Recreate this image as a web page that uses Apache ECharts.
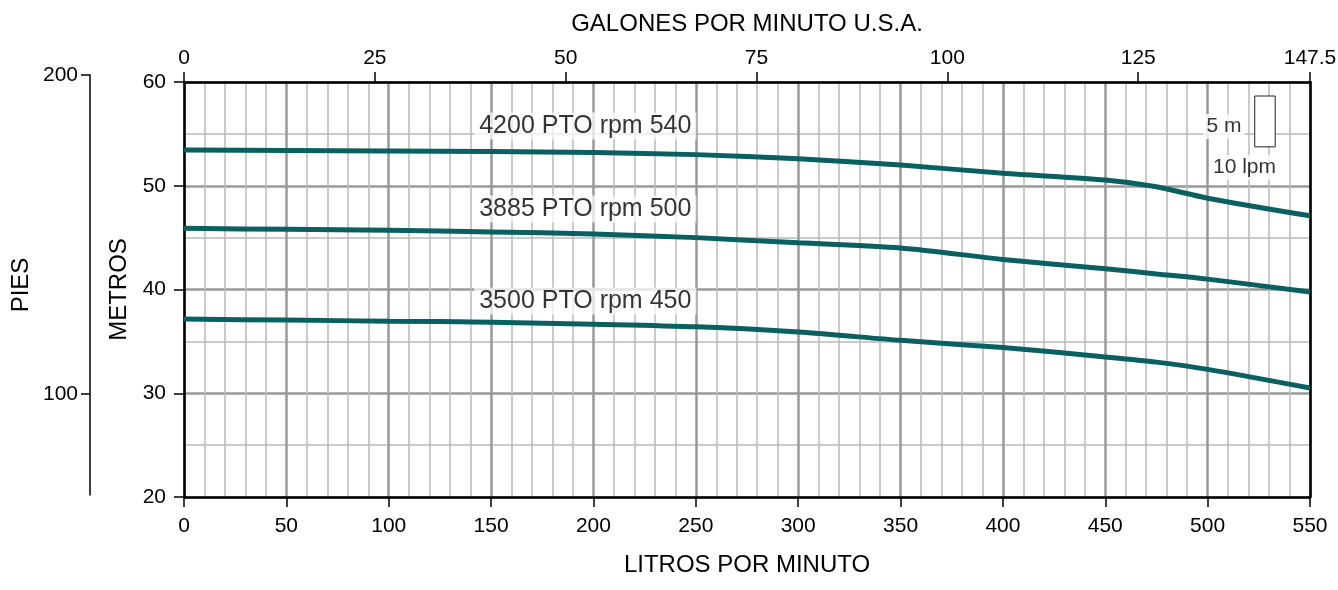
<!DOCTYPE html>
<html><head><meta charset="utf-8">
<script src="https://cdn.jsdelivr.net/npm/echarts@6/dist/echarts.min.js"></script>
<style>html,body{margin:0;padding:0;background:#fff}#c{width:1338px;height:590px}</style>
</head><body><div id="c"></div>
<script>
// Data
const lpm = [0, 50, 100, 150, 200, 250, 300, 350, 400, 450, 475, 500, 550];
const rpm540 = [53.45, 53.4, 53.35, 53.3, 53.2, 53.0, 52.6, 52.0, 51.2, 50.55, 49.9, 48.8, 47.1];
const rpm500 = [45.9, 45.8, 45.7, 45.55, 45.35, 45.0, 44.5, 44.0, 42.9, 42.0, 41.5, 41.0, 39.75];
const rpm450 = [37.15, 37.05, 36.95, 36.85, 36.65, 36.4, 35.9, 35.1, 34.4, 33.5, 33.0, 32.3, 30.5];
const curveNames = ['4200 PTO rpm 540', '3885 PTO rpm 500', '3500 PTO rpm 450'];
const curveLabelAt = [[196, 55.76], [196, 47.76], [196, 38.9]];
const galTicks = [0, 25, 50, 75, 100, 125, 147.5];
const piesTicks = [100, 200];
const scaleBox = [[523, 58.65], [533, 53.75]];
const scaleTexts = [['5 m', 508, 55.7], ['10 lpm', 518, 51.75]];

const FONT = 'Liberation Sans';
const lineColor = '#0a5f60';
const series = [rpm540, rpm500, rpm450].map((v, i) => ({
  type: 'line', name: curveNames[i], data: lpm.map((x, j) => [x, v[j]]),
  showSymbol: false, smooth: 0.3, lineStyle: { color: lineColor, width: 5 }, z: 5,
  xAxisIndex: 0, yAxisIndex: 0
}));
series.push({
  type: 'scatter', symbolSize: 0, z: 6,
  data: curveLabelAt.map((p, i) => ({ value: p, name: curveNames[i] })),
  label: { show: true, position: 'inside', formatter: p => p.name, color: '#000',
    fontFamily: FONT, fontSize: 25, backgroundColor: 'rgba(255,255,255,0.9)', padding: [1, 5] }
});
series.push({
  type: 'scatter', symbolSize: 0, z: 6,
  data: scaleTexts.map(t => ({ value: [t[1], t[2]], name: t[0] })),
  label: { show: true, position: 'inside', formatter: p => p.name, color: '#000',
    fontFamily: FONT, fontSize: 21, backgroundColor: '#fff', padding: [2, 3] },
  markArea: { silent: true, itemStyle: { color: '#fff', borderColor: '#222', borderWidth: 1 },
    data: [[{ coord: scaleBox[0] }, { coord: scaleBox[1] }]] }
});
series.push({ type: 'line', data: [], xAxisIndex: 2, yAxisIndex: 2 });

const tickLbl = { fontFamily: FONT, fontSize: 21, color: '#000' };
const chart = echarts.init(document.getElementById('c'), null, { renderer: 'canvas' });
chart.setOption({
  animation: false,
  textStyle: { fontFamily: FONT },
  grid: [
    { left: 184, right: 28, top: 82, bottom: 93, containLabel: false, outerBoundsMode: 'none' },
    { left: 90, width: 1, top: 75, bottom: 95, containLabel: false, outerBoundsMode: 'none' }
  ],
  xAxis: [
    { type: 'value', gridIndex: 0, position: 'bottom', min: 0, max: 550, interval: 50,
      name: 'LITROS POR MINUTO', nameLocation: 'middle', nameGap: 56,
      nameTextStyle: { fontFamily: FONT, fontSize: 24, color: '#000' },
      axisLine: { show: true, onZero: false, lineStyle: { color: '#000', width: 2.5 } },
      axisTick: { show: true, length: 10, inside: false, lineStyle: { color: '#000', width: 1.5 } },
      axisLabel: Object.assign({ margin: 19 }, tickLbl),
      splitLine: { show: true, lineStyle: { color: '#999', width: 2.5 } },
      minorTick: { show: false, splitNumber: 5 },
      minorSplitLine: { show: true, lineStyle: { color: '#bbb', width: 1.5 } } },
    { type: 'value', gridIndex: 0, position: 'top', min: 0, max: 147.5,
      name: 'GALONES POR MINUTO U.S.A.', nameLocation: 'middle', nameGap: 46,
      nameTextStyle: { fontFamily: FONT, fontSize: 24, color: '#000' },
      axisLine: { show: true, onZero: false, lineStyle: { color: '#000', width: 2.5 } },
      axisTick: { show: true, length: 10, customValues: galTicks, lineStyle: { color: '#000', width: 1.5 } },
      axisLabel: Object.assign({ margin: 13, customValues: galTicks, formatter: v => String(v) }, tickLbl),
      splitLine: { show: false } },
    { type: 'value', gridIndex: 1, show: false, min: 0, max: 1 }
  ],
  yAxis: [
    { type: 'value', gridIndex: 0, position: 'left', min: 20, max: 60, interval: 10,
      name: 'METROS', nameLocation: 'middle', nameGap: 41, nameRotate: 90,
      nameTextStyle: { fontFamily: FONT, fontSize: 24, color: '#000' },
      axisLine: { show: true, onZero: false, lineStyle: { color: '#000', width: 2.5 } },
      axisTick: { show: true, length: 10, lineStyle: { color: '#000', width: 1.5 } },
      axisLabel: Object.assign({ margin: 18 }, tickLbl),
      splitLine: { show: true, lineStyle: { color: '#999', width: 2.5 } },
      minorTick: { show: false, splitNumber: 2 },
      minorSplitLine: { show: true, lineStyle: { color: '#bbb', width: 1.5 } } },
    { type: 'value', gridIndex: 0, position: 'right', min: 20, max: 60,
      axisLine: { show: true, onZero: false, lineStyle: { color: '#000', width: 2.5 } },
      axisTick: { show: false }, axisLabel: { show: false }, splitLine: { show: false } },
    { type: 'value', gridIndex: 1, position: 'left', min: 68.3, max: 200,
      name: 'PIES', nameLocation: 'middle', nameGap: 57, nameRotate: 90,
      nameTextStyle: { fontFamily: FONT, fontSize: 24, color: '#000' },
      axisLine: { show: true, onZero: false, lineStyle: { color: '#000', width: 1.5 } },
      axisTick: { show: true, length: 9, customValues: piesTicks, lineStyle: { color: '#000', width: 1.5 } },
      axisLabel: Object.assign({ margin: 12, customValues: piesTicks }, tickLbl),
      splitLine: { show: false } }
  ],
  series: series
});
</script></body></html>
